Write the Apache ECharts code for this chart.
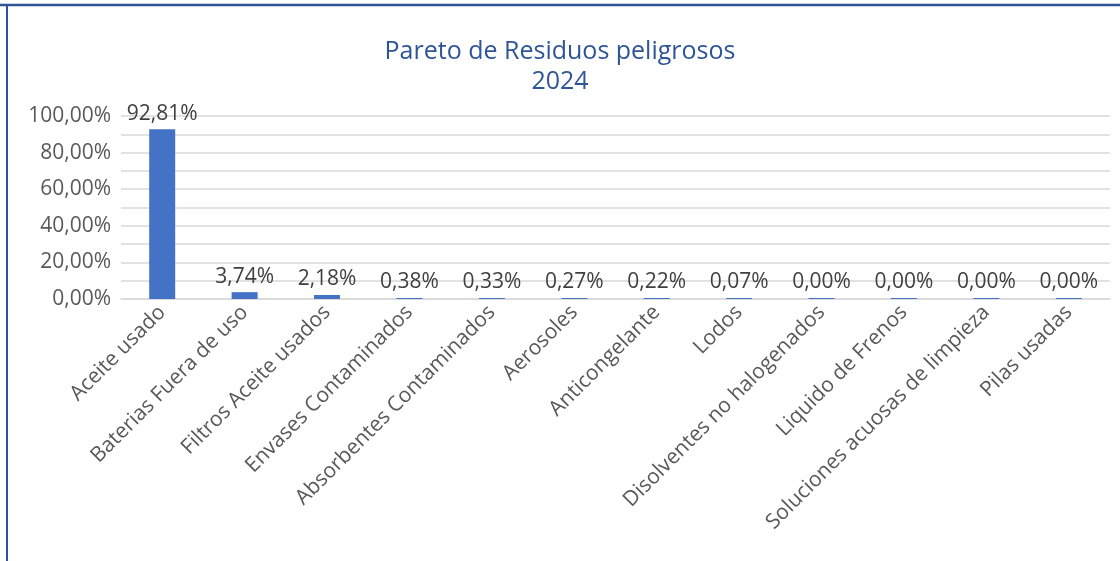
<!DOCTYPE html>
<html>
<head>
<meta charset="utf-8">
<title>Pareto de Residuos peligrosos 2024</title>
<script src="https://cdn.jsdelivr.net/npm/echarts@6/dist/echarts.min.js"></script>
<style>
  html, body { margin: 0; padding: 0; background: #fff; }
  #chart { width: 1120px; height: 561px; }
</style>
</head>
<body>
<div id="chart"></div>
<script>
// residuos (categorias del eje x)
const categorias = [
  'Aceite usado',
  'Baterias Fuera de uso',
  'Filtros Aceite usados',
  'Envases Contaminados',
  'Absorbentes Contaminados',
  'Aerosoles',
  'Anticongelante',
  'Lodos',
  'Disolventes no halogenados',
  'Liquido de Frenos',
  'Soluciones acuosas de limpieza',
  'Pilas usadas'
]
// porcentaje de cada residuo
const porcentajes = [92.81, 3.74, 2.18, 0.38, 0.33, 0.27, 0.22, 0.07, 0, 0, 0, 0]
// marcas del eje y (solo estas llevan texto, las lineas van cada 10)
const marcasY = [0, 20, 40, 60, 80, 100]

const fuente = 'Open Sans'
const fmtPct = v => v.toFixed(2).replace('.', ',') + '%'

const chart = echarts.init(document.getElementById('chart'))
const option = {
  backgroundColor: '#fff',
  animation: false,
  title: {
    text: 'Pareto de Residuos peligrosos\n2024',
    left: 'center',
    top: 32,
    textStyle: {
      fontFamily: fuente,
      fontSize: 25,
      fontWeight: 'normal',
      color: '#2F5597',
      lineHeight: 30
    }
  },
  grid: {
    left: 121,
    right: 10,
    top: 116,
    bottom: 262
  },
  xAxis: {
    type: 'category',
    data: categorias,
    axisLine: { lineStyle: { color: '#d9d9d9', width: 1.5 } },
    axisTick: { show: false },
    axisLabel: {
      interval: 0,
      rotate: 45,
      margin: 10,
      fontFamily: fuente,
      fontSize: 21,
      color: '#595959'
    }
  },
  yAxis: {
    type: 'value',
    min: 0,
    max: 100,
    interval: 10,
    axisLine: { show: false },
    axisTick: { show: false },
    splitLine: { lineStyle: { color: '#d9d9d9', width: 1.5 } },
    axisLabel: {
      margin: 10,
      fontFamily: fuente,
      fontSize: 21,
      color: '#595959',
      formatter: v => marcasY.includes(v) ? fmtPct(v) : ''
    }
  },
  series: [{
    type: 'bar',
    data: porcentajes,
    barWidth: 26,
    barMinHeight: 1,
    itemStyle: { color: '#4472C4' },
    label: {
      show: true,
      position: 'top',
      distance: 5,
      fontFamily: fuente,
      fontSize: 21,
      color: '#404040',
      formatter: p => fmtPct(p.value)
    }
  }],
  // marco del grafico (borde superior e izquierdo)
  graphic: [
    { type: 'line', shape: { x1: 0, y1: 5, x2: 1120, y2: 5 }, style: { stroke: '#2F5597', lineWidth: 2.5 } },
    { type: 'line', shape: { x1: 7, y1: 5, x2: 7, y2: 561 }, style: { stroke: '#2F5597', lineWidth: 2 } }
  ]
}
chart.setOption(option)
</script>
</body>
</html>
